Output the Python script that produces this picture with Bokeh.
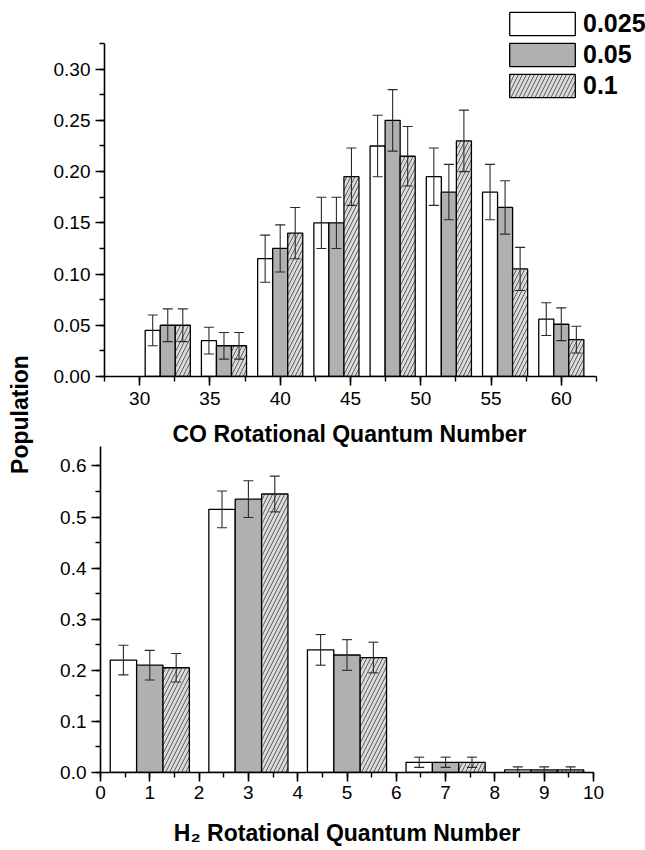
import math
from bokeh.plotting import figure
from bokeh.layouts import row, column
from bokeh.models import (ColumnDataSource, FixedTicker, PrintfTickFormatter, Whisker,
                          TeeHead, Legend, LegendItem, Range1d, Title)
from bokeh.transform import dodge
from bokeh.core.properties import value
from bokeh.embed import file_html
from bokeh.resources import INLINE

# ---------------- data ----------------
series_names = ["0.025", "0.05", "0.1"]

co_j = [32, 36, 40, 44, 48, 52, 56, 60]
co_a = [0.045, 0.035, 0.115, 0.150, 0.225, 0.195, 0.180, 0.056]
co_a_err = [0.015, 0.013, 0.023, 0.025, 0.030, 0.028, 0.027, 0.016]
co_b = [0.050, 0.030, 0.125, 0.150, 0.250, 0.180, 0.165, 0.051]
co_b_err = [0.016, 0.013, 0.023, 0.025, 0.030, 0.027, 0.026, 0.016]
co_c = [0.050, 0.030, 0.140, 0.195, 0.215, 0.230, 0.105, 0.036]
co_c_err = [0.016, 0.013, 0.025, 0.028, 0.029, 0.030, 0.021, 0.013]

h2_j = [1, 3, 5, 7, 9]
h2_a = [0.220, 0.515, 0.240, 0.020, 0.005]
h2_a_err = [0.029, 0.036, 0.030, 0.010, 0.006]
h2_b = [0.210, 0.535, 0.230, 0.020, 0.005]
h2_b_err = [0.029, 0.036, 0.030, 0.010, 0.006]
h2_c = [0.205, 0.545, 0.225, 0.020, 0.005]
h2_c_err = [0.028, 0.035, 0.030, 0.010, 0.006]

co_yticks = [0.0, 0.05, 0.10, 0.15, 0.20, 0.25, 0.30]
co_xticks = [30, 35, 40, 45, 50, 55, 60]
h2_yticks = [0.0, 0.1, 0.2, 0.3, 0.4, 0.5, 0.6]
h2_xticks = [0, 1, 2, 3, 4, 5, 6, 7, 8, 9, 10]

# ---------------- styles ----------------
FONT = "Liberation Sans"
styles = [
    dict(fill_color="white"),
    dict(fill_color="#b0b0b0"),
    dict(fill_color="#dadada", hatch_pattern="/", hatch_color="#505050",
         hatch_scale=8, hatch_weight=0.9),
]


def style_axes(p, tick_fmt):
    for ax in [p.xaxis[0], p.yaxis[0]]:
        ax.axis_line_width = 1.6
        ax.axis_line_color = "black"
        ax.major_tick_line_width = 1.6
        ax.minor_tick_line_width = 1.4
        ax.major_tick_out = 9
        ax.major_tick_in = 0
        ax.minor_tick_out = 5
        ax.minor_tick_in = 0
        ax.major_label_text_font = FONT
        ax.major_label_text_font_size = "19px"
        ax.major_label_text_color = "black"
        ax.axis_label_text_font = FONT
        ax.axis_label_text_font_style = "bold"
        ax.axis_label_text_font_size = "23px"
        ax.axis_label_text_color = "black"
    p.yaxis[0].formatter = PrintfTickFormatter(format=tick_fmt)
    p.yaxis[0].major_label_standoff = 5
    p.xaxis[0].major_label_standoff = 6
    p.xgrid.visible = False
    p.ygrid.visible = False
    p.outline_line_color = None
    p.background_fill_color = "white"
    p.border_fill_color = "white"


def add_bars(p, js, vals, errs, w):
    rends = []
    for k in range(3):
        off = (k - 1) * w
        src = ColumnDataSource(dict(j=js, v=vals[k],
                                    lo=[a - b for a, b in zip(vals[k], errs[k])],
                                    hi=[a + b for a, b in zip(vals[k], errs[k])]))
        r = p.vbar(x=dodge("j", off), top="v", bottom=0, width=w, source=src,
                   line_color="black", line_width=1.3, **styles[k])
        rends.append(r)
        wk = Whisker(source=src, base=dodge("j", off), upper="hi", lower="lo",
                     line_color="#2a2a2a", line_width=1.1, level="overlay",
                     upper_head=TeeHead(size=10, line_color="#2a2a2a", line_width=1.1),
                     lower_head=TeeHead(size=10, line_color="#2a2a2a", line_width=1.1))
        p.add_layout(wk)
    return rends


# ---------------- top: CO ----------------
# frame spans to the canvas top/right so the legend is not clipped;
# the axis lines are limited with bounds.
p1 = figure(width=605, height=417, x_range=Range1d(27.5, 65.99), y_range=Range1d(0, 0.367),
            output_backend="svg", toolbar_location=None, frame_align=False,
            min_border_left=64, min_border_right=0, min_border_top=0, min_border_bottom=41)
style_axes(p1, "%.2f")
p1.yaxis[0].ticker = FixedTicker(ticks=co_yticks,
                                 minor_ticks=[i * 0.025 for i in range(14)])
p1.xaxis[0].ticker = FixedTicker(ticks=co_xticks,
                                 minor_ticks=[27.5 + 2.5 * i for i in range(15)])
p1.yaxis[0].bounds = (0, 0.325)
p1.xaxis[0].bounds = (27.5, 62.5)
co_rends = add_bars(p1, co_j, [co_a, co_b, co_c], [co_a_err, co_b_err, co_c_err], 1.07)

legend = Legend(items=[LegendItem(label=series_names[k], renderers=[co_rends[k]]) for k in range(3)],
                location=(397, 276), glyph_width=82, glyph_height=29, label_height=29,
                spacing=2, padding=0, margin=0, label_standoff=0,
                border_line_alpha=0, background_fill_alpha=0,
                label_text_font=FONT, label_text_font_style="bold",
                label_text_font_size="25px", label_text_color="black")
p1.add_layout(legend, "center")

# ---------------- bottom: H2 ----------------
p2 = figure(width=605, height=433, x_range=Range1d(0, 10), y_range=Range1d(0, 0.638),
            output_backend="svg", toolbar_location=None, frame_align=False,
            min_border_left=60, min_border_right=52, min_border_top=29, min_border_bottom=78)
style_axes(p2, "%.1f")
p2.yaxis[0].ticker = FixedTicker(ticks=h2_yticks,
                                 minor_ticks=[i * 0.05 for i in range(13)])
p2.xaxis[0].ticker = FixedTicker(ticks=h2_xticks,
                                 minor_ticks=[0.5 * i for i in range(21)])
p2.xaxis[0].major_label_standoff = 4
p2.xaxis[0].axis_label = "H\u2082 Rotational Quantum Number"
p2.xaxis[0].axis_label_standoff = 18
add_bars(p2, h2_j, [h2_a, h2_b, h2_c], [h2_a_err, h2_b_err, h2_c_err], 0.535)

# x-axis title of the CO panel, drawn in the strip above the H2 panel,
# left-aligned with an offset so it sits centred under the CO axis
co_title = Title(text="CO Rotational Quantum Number", align="left", offset=72,
                 vertical_align="bottom", standoff=0,
                 text_font=FONT, text_font_style="bold", text_font_size="23px",
                 text_color="black")
p2.add_layout(co_title, "above")

# ---------------- shared y label ----------------
pl = figure(width=40, height=850, x_range=Range1d(0, 40), y_range=Range1d(0, 850),
            output_backend="svg", toolbar_location=None, frame_align=False,
            x_axis_location=None, y_axis_location=None,
            min_border_left=0, min_border_right=0, min_border_top=0, min_border_bottom=0)
pl.xgrid.visible = False
pl.ygrid.visible = False
pl.outline_line_color = None
pl.text(x=[19], y=[850 - 414], text=["Population"], angle=math.pi / 2,
        text_align="center", text_baseline="middle",
        text_font=value(FONT), text_font_style="bold", text_font_size="23px",
        text_color="black")

layout = row(pl, column(p1, p2))
open("out.html", "w").write(file_html(layout, INLINE))
